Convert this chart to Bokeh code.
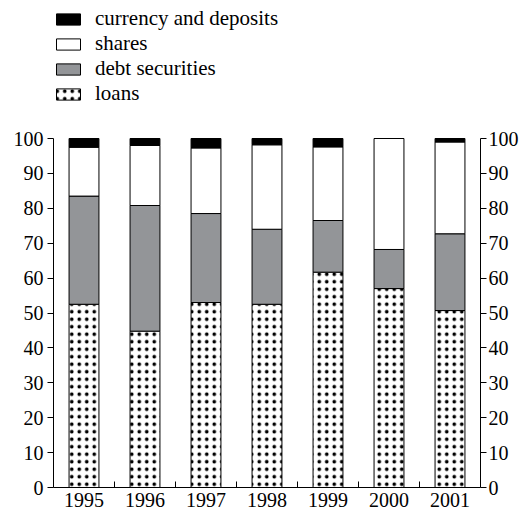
from bokeh.plotting import figure
from bokeh.models import (ColumnDataSource, LinearAxis, FixedTicker, Range1d,
                          Legend, LegendItem)
from bokeh.transform import stack
from bokeh.embed import file_html
from bokeh.resources import INLINE

years = ["1995", "1996", "1997", "1998", "1999", "2000", "2001"]
loans = [52.5, 44.8, 53.0, 52.5, 61.7, 57.0, 50.7]
debt_securities = [31.0, 36.0, 25.5, 21.5, 14.8, 11.2, 22.0]
shares = [14.0, 17.2, 18.8, 24.2, 21.1, 31.8, 26.3]
currency_and_deposits = [2.5, 2.0, 2.7, 1.8, 2.4, 0.0, 1.0]
y_ticks = [0, 10, 20, 30, 40, 50, 60, 70, 80, 90, 100]

FONT = "Liberation Serif"
FS = "20px"

xpos = [i + 0.5 for i in range(len(years))]
src = ColumnDataSource(dict(x=xpos, loans=loans, debt=debt_securities,
                            shares=shares, cur=currency_and_deposits))

H = 512
BOTTOM = 25
frame_h = H - BOTTOM
y_top = 100 * frame_h / 349.0

p = figure(width=521, height=H, output_backend="svg", toolbar_location=None,
           x_range=Range1d(0, len(years)), y_range=Range1d(0, y_top),
           min_border_left=53, min_border_right=0, min_border_top=0,
           min_border_bottom=BOTTOM, x_axis_location=None, y_axis_location=None)
p.outline_line_color = None
p.xgrid.visible = False
p.ygrid.visible = False
p.background_fill_color = "white"
p.border_fill_color = "white"

W = 0.49
r_loans = p.vbar(x="x", bottom=0, top="loans", width=W, source=src,
                 fill_color="white", line_color="black", line_width=1,
                 hatch_pattern="dot", hatch_color="black", hatch_scale=7.5,
                 hatch_weight=3)
r_debt = p.vbar(x="x", bottom=stack("loans"), top=stack("loans", "debt"),
                width=W, source=src, fill_color="#939598", line_color="black",
                line_width=1)
r_shares = p.vbar(x="x", bottom=stack("loans", "debt"),
                  top=stack("loans", "debt", "shares"), width=W, source=src,
                  fill_color="white", line_color="black", line_width=1)
r_cur = p.vbar(x="x", bottom=stack("loans", "debt", "shares"),
               top=stack("loans", "debt", "shares", "cur"), width=W, source=src,
               fill_color="black", line_color="black", line_width=1)

# x axis: labels at category centres, ticks at category boundaries
xt = FixedTicker(ticks=xpos, minor_ticks=list(range(1, len(years))))
xa = LinearAxis(ticker=xt)
xa.major_label_overrides = {x: y for x, y in zip(xpos, years)}
xa.major_tick_in = 0
xa.major_tick_out = 0
xa.minor_tick_in = 6
xa.minor_tick_out = 0
xa.minor_tick_line_color = "black"
xa.major_label_standoff = 5
p.add_layout(xa, "below")

for side, so in (("left", 4), ("right", 2)):
    ya = LinearAxis(ticker=FixedTicker(ticks=y_ticks, minor_ticks=[]),
                    bounds=(0, 100))
    ya.major_tick_in = 0
    ya.major_tick_out = 6
    ya.minor_tick_in = 0
    ya.minor_tick_out = 0
    ya.major_label_standoff = so
    p.add_layout(ya, side)

for ax in p.axis:
    ax.axis_line_color = "black"
    ax.axis_line_width = 1
    ax.major_tick_line_color = "black"
    ax.major_label_text_font = FONT
    ax.major_label_text_font_size = FS
    ax.major_label_text_color = "black"

legend = Legend(items=[
    LegendItem(label="currency and deposits", renderers=[r_cur]),
    LegendItem(label="shares", renderers=[r_shares]),
    LegendItem(label="debt securities", renderers=[r_debt]),
    LegendItem(label="loans", renderers=[r_loans]),
], location=(0, 381))
legend.glyph_width = 30
legend.glyph_height = 14
legend.label_height = 14
legend.spacing = 0
legend.padding = 0
legend.margin = 0
legend.label_standoff = 12
legend.label_text_font = "'Liberation Serif', serif"
legend.label_text_font_size = "21px"
legend.label_text_font_style = "normal"
legend.label_text_color = "black"
legend.border_line_color = None
legend.background_fill_alpha = 0
p.add_layout(legend, "center")

open("out.html", "w").write(file_html(p, INLINE))
